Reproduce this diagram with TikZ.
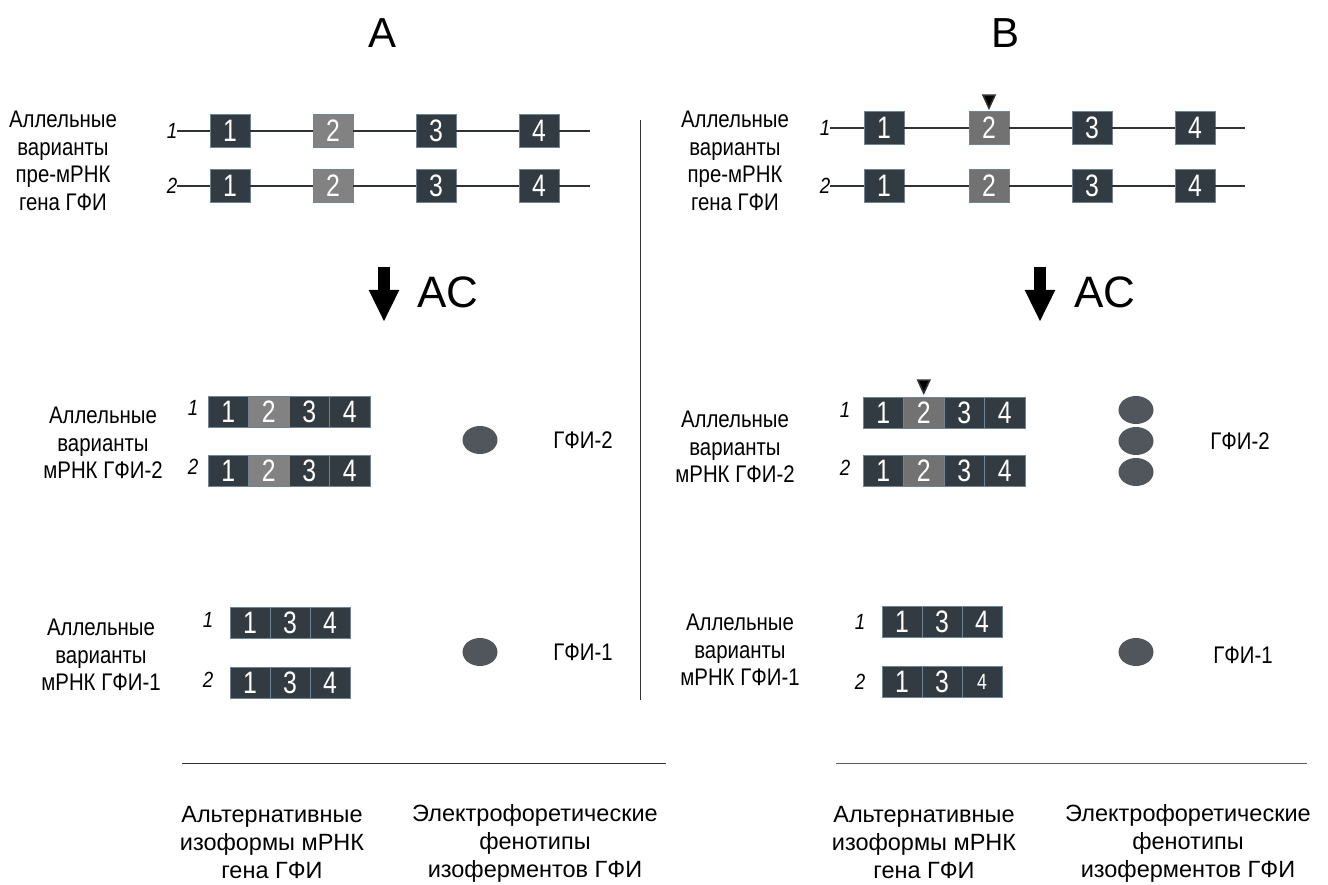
\documentclass[tikz,border=0pt]{standalone}
\usepackage{fontspec}
\setmainfont{Liberation Sans}
\newfontfamily\narrowfont[FakeStretch=0.85]{Liberation Sans}
\newfontfamily\exonfont[FakeStretch=0.8]{Liberation Sans}
\usetikzlibrary{arrows.meta,shapes.geometric,calc}
\definecolor{exondark}{HTML}{333B42}
\definecolor{exonedge}{HTML}{6F8494}
\definecolor{exonpaleA}{HTML}{828282}
\definecolor{exonpaleB}{HTML}{727272}
\definecolor{enzfill}{HTML}{50565C}
\definecolor{wire}{HTML}{2F3337}
\tikzset{
	exon/.style={draw=exonedge, line width=0.8pt, fill=exondark, text=white, inner sep=0pt, minimum width=40, minimum height=33, font=\exonfont\fontsize{31}{31}\selectfont},
	exonA/.style={exon, fill=exonpaleA},
	exonB/.style={exon, fill=exonpaleB},
	seg/.style={exon, minimum width=40.5, minimum height=31},
	segA/.style={seg, fill=exonpaleA},
	segB/.style={seg, fill=exonpaleB},
	wire/.style={draw=wire, line width=1.6pt},
	lbl/.style={align=center, inner sep=0pt, font=\narrowfont\fontsize{24}{27.5}\selectfont},
	captext/.style={align=center, inner sep=0pt, font=\fontsize{23.5}{28}\selectfont},
	num/.style={inner sep=0pt, font=\narrowfont\fontsize{22}{22}\selectfont\itshape},
	enz/.style={ellipse, fill=enzfill, inner sep=0pt, minimum width=35, minimum height=28},
	head/.style={inner sep=0pt, font=\fontsize{42}{42}\selectfont},
	bigarrow/.style={line width=12pt, draw=black, -{Triangle[length=32pt, width=28pt]}}
}
\begin{document}
\begin{tikzpicture}[x=1pt, y=-1pt]
			%%%%% START %%%%%
			\useasboundingbox (0,0) rectangle (1328,885);
			
			\node[head] (hA) at (383,33) {A};
			\node[head] (hB) at (1005,33) {B};
			
			% divider
			\coordinate (divtop) at (640,120);
			\coordinate (divbot) at (640,700);
			\draw[line width=1pt, color=wire] (divtop) -- (divbot);
			
			%% ---- panel A ----
			\node[lbl] (lpre) at (63,161) {Аллельные\\варианты\\пре-мРНК\\гена ГФИ};
			\foreach \r/\y in {1/131,2/186} {
				\node[num] (la\r n) at (172,\y) {\r};
				\coordinate (la\r end) at (590,\y);
				\foreach \n/\x/\s in {1/230/exon,2/333/exonA,3/436/exon,4/539/exon}
					\node[\s] (la\r e\n) at (\x,\y) {\n};
				\draw[wire] (la\r n.east) -- (la\r e1.west);
				\draw[wire] (la\r e1.east) -- (la\r e2.west);
				\draw[wire] (la\r e2.east) -- (la\r e3.west);
				\draw[wire] (la\r e3.east) -- (la\r e4.west);
				\draw[wire] (la\r e4.east) -- (la\r end);
			}
			
			\coordinate (arAtop) at (384,267);
			\coordinate (arAtip) at (384,322);
			\draw[bigarrow] (arAtop) -- (arAtip);
			\node[head, font=\fontsize{44}{44}\selectfont] (acA) at (448,292) {АС};
			
			\node[lbl] (lm2A) at (103,443) {Аллельные\\варианты\\мРНК ГФИ-2};
			\foreach \r/\y in {1/412,2/471} {
				\node[num] (ma\r n) at (193,\y-4) {\r};
				\foreach \n/\x/\s in {1/228.25/seg,2/268.75/segA,3/309.25/seg,4/349.75/seg}
					\node[\s] (ma\r s\n) at (\x,\y) {\n};
			}
			\node[enz] (ea2) at (480,440) {};
			\node[lbl] (ta2) at (583,440) {ГФИ-2};
			
			\node[lbl] (lm1A) at (101,655) {Аллельные\\варианты\\мРНК ГФИ-1};
			\foreach \r/\y in {1/623,2/683} {
				\node[num] (mb\r n) at (208,\y-3) {\r};
				\foreach \n/\x in {1/250,3/290,4/330}
					\node[seg, minimum width=40] (mb\r s\n) at (\x,\y) {\n};
			}
			\node[enz] (ea1) at (480,652) {};
			\node[lbl] (ta1) at (583,652) {ГФИ-1};
			
			\coordinate (rulAl) at (182,763);
			\coordinate (rulAr) at (666,763);
			\draw[line width=1pt, color=wire] (rulAl) -- (rulAr);
			\node[captext] (capA1) at (272,843) {Альтернативные\\изоформы мРНК\\гена ГФИ};
			\node[captext] (capA2) at (535,843) {Электрофоретические\\фенотипы\\изоферментов ГФИ};
			
			%% ---- panel B ----
			\node[lbl] (rpre) at (735,161) {Аллельные\\варианты\\пре-мРНК\\гена ГФИ};
			\foreach \r/\y in {1/128,2/186} {
				\node[num] (ra\r n) at (825,\y) {\r};
				\coordinate (ra\r end) at (1245,\y);
				\foreach \n/\x/\s in {1/884/exon,2/989/exonB,3/1092/exon,4/1195/exon}
					\node[\s] (ra\r e\n) at (\x,\y) {\n};
				\draw[wire] (ra\r n.east) -- (ra\r e1.west);
				\draw[wire] (ra\r e1.east) -- (ra\r e2.west);
				\draw[wire] (ra\r e2.east) -- (ra\r e3.west);
				\draw[wire] (ra\r e3.east) -- (ra\r e4.west);
				\draw[wire] (ra\r e4.east) -- (ra\r end);
			}
			\fill[wire] ($(ra1e2.north)+(0,-3)$) -- ++(-6,-13) -- ++(12,0) -- cycle;
			
			\coordinate (arBtop) at (1040,267);
			\coordinate (arBtip) at (1040,322);
			\draw[bigarrow] (arBtop) -- (arBtip);
			\node[head, font=\fontsize{44}{44}\selectfont] (acB) at (1105,292) {АС};
			
			\node[lbl] (lm2B) at (735,447) {Аллельные\\варианты\\мРНК ГФИ-2};
			\foreach \r/\y in {1/413,2/471} {
				\node[num] (mc\r n) at (845,\y-3) {\r};
				\foreach \n/\x/\s in {1/883.25/seg,2/923.75/segB,3/964.25/seg,4/1004.75/seg}
					\node[\s] (mc\r s\n) at (\x,\y) {\n};
			}
			\fill[wire] ($(mc1s2.north)+(0,-4)$) -- ++(-6,-13) -- ++(12,0) -- cycle;
			\node[enz] (eb2a) at (1136,410) {};
			\node[enz] (eb2b) at (1136,441) {};
			\node[enz] (eb2c) at (1136,472) {};
			\node[lbl] (tb2) at (1240,441) {ГФИ-2};
			
			\node[lbl] (lm1B) at (740,650) {Аллельные\\варианты\\мРНК ГФИ-1};
			\foreach \r/\y in {1/622,2/682} {
				\node[num] (md\r n) at (860,\y) {\r};
				\foreach \n/\x in {1/902,3/942}
					\node[seg, minimum width=40] (md\r s\n) at (\x,\y) {\n};
			}
			\node[seg, minimum width=40] (md1s4) at (982,622) {4};
			\node[seg, minimum width=40, font=\exonfont\fontsize{22}{22}\selectfont] (md2s4) at (982,682) {4};
			\node[enz] (eb1) at (1136,652) {};
			\node[lbl] (tb1) at (1243,655) {ГФИ-1};
			
			\coordinate (rulBl) at (836,763);
			\coordinate (rulBr) at (1307,763);
			\draw[line width=1pt, color=wire!80] (rulBl) -- (rulBr);
			\node[captext] (capB1) at (924,843) {Альтернативные\\изоформы мРНК\\гена ГФИ};
			\node[captext] (capB2) at (1188,843) {Электрофоретические\\фенотипы\\изоферментов ГФИ};
			
			%%%%% END %%%%%
\end{tikzpicture}
\end{document}
